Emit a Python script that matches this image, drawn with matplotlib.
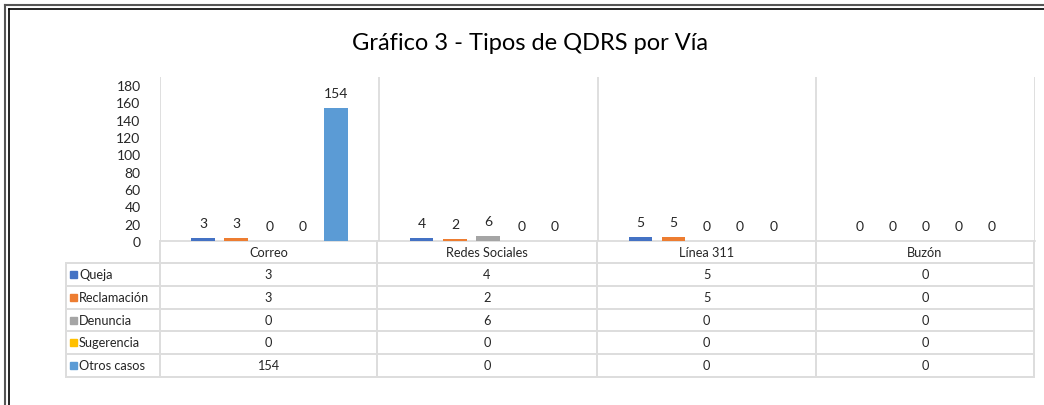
import numpy as np
from matplotlib import pyplot as plt

plt.rcParams['font.family'] = ['Lato', 'DejaVu Sans']

categories = ['Correo', 'Redes Sociales', 'Línea 311', 'Buzón']
series = ['Queja', 'Reclamación', 'Denuncia', 'Sugerencia', 'Otros casos']
values = {
    'Queja': [3, 4, 5, 0],
    'Reclamación': [3, 2, 5, 0],
    'Denuncia': [0, 6, 0, 0],
    'Sugerencia': [0, 0, 0, 0],
    'Otros casos': [154, 0, 0, 0],
}
colors = ['#4472C4', '#ED7D31', '#A5A5A5', '#FFC000', '#5B9BD5']
yticks = list(range(0, 181, 20))

W, H = 1044, 406
fig = plt.figure(figsize=(W / 100, H / 100), dpi=100)

# pixel helper
def box(x0, y0, x1, y1):
    return [x0 / W, 1 - y1 / H, (x1 - x0) / W, (y1 - y0) / H]

grid_c = '#D9D9D9'

############# bars #############
ax = fig.add_axes(box(160, 78, 1035, 242))
n = len(series)
step = 0.152
bw = 0.108
x = np.arange(len(categories)) + 0.5
for i, s in enumerate(series):
    xs = x + (i - (n - 1) / 2) * step
    bars = ax.bar(xs, values[s], bw, color=colors[i], zorder=3)
    for b, v in zip(bars, values[s]):
        ax.annotate(str(v), (b.get_x() + b.get_width() / 2, v),
                    xytext=(0, 10.8), textcoords='offset points',
                    ha='center', va='center', fontsize=10, color='#262626')

ax.set_xlim(0, len(categories))
ax.set_ylim(0, 180 * (242 - 78) / (242 - 86))
ax.set_yticks(yticks)
ax.set_yticklabels([str(t) for t in yticks], fontsize=10, color='#262626')
ax.set_xticks(range(len(categories) + 1))
ax.set_xticklabels([])
ax.tick_params(length=0, pad=14)
ax.grid(axis='x', color=grid_c, lw=1.2, zorder=0)
for sp in ['top', 'right', 'left']:
    ax.spines[sp].set_visible(False)
ax.spines['bottom'].set_color(grid_c)
ax.spines['bottom'].set_linewidth(1.2)

############# data table #############
ov = fig.add_axes([0, 0, 1, 1])
ov.set_xlim(0, W)
ov.set_ylim(H, 0)
ov.axis('off')

col_x = [160, 377, 597, 816, 1034]
row_y = [242, 264, 287, 310, 332, 355, 378]
tc = '#DDDDDD'
lw = 1.4

# header row
ov.plot([160, 1034], [264, 264], color=tc, lw=lw)
for cx in col_x:
    ov.plot([cx, cx], [242, 378], color=tc, lw=lw)
for j, c in enumerate(categories):
    ov.text((col_x[j] + col_x[j + 1]) / 2, 253, c, ha='center', va='center',
            fontsize=9.2, color='#262626')

# series rows
ov.plot([66, 66], [264, 378], color=tc, lw=lw)
for y in row_y[1:]:
    ov.plot([66, 1034], [y, y], color=tc, lw=lw)
for i, s in enumerate(series):
    yc = (row_y[i + 1] + row_y[i + 2]) / 2
    ov.add_patch(plt.Rectangle((70, yc - 3.5), 7, 7, color=colors[i]))
    ov.text(79, yc, s, ha='left', va='center', fontsize=9.2, color='#262626')
    for j, v in enumerate(values[s]):
        ov.text((col_x[j] + col_x[j + 1]) / 2, yc, str(v), ha='center',
                va='center', fontsize=9.2, color='#262626')

############# title & frame #############
ov.text(530, 44, 'Gráfico 3 - Tipos de QDRS por Vía', ha='center', va='center',
        fontsize=17, color='#000000')

ov.plot([5, 5], [H, 6], color='#555555', lw=1.5)
ov.plot([5, W], [6, 6], color='#555555', lw=1.5)
ov.plot([8.5, 8.5], [H, 9.5], color='#000000', lw=1.2)
ov.plot([8.5, W], [9.5, 9.5], color='#000000', lw=1.2)

fig.savefig('out.png', dpi=100)
